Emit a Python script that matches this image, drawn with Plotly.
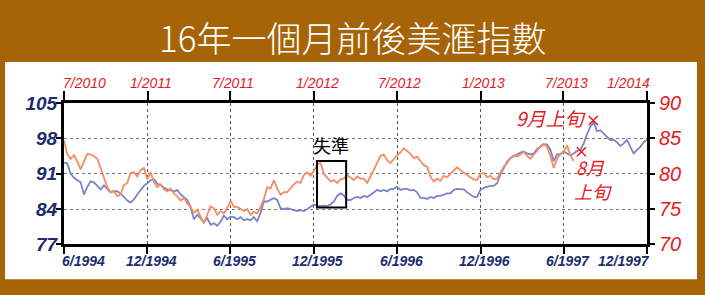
import pandas as pd
import plotly.graph_objects as go

# ---------------- data ----------------
blue_start, blue_end = "1994-06-01", "1997-12-01"
red_start, red_end = "2010-07-01", "2014-01-01"

# US dollar index 6/1994 - 12/1997 (left axis)
usd_1994_97 = [
    93.2, 93.0, 91.0, 90.2, 89.7, 89.3, 86.9, 88.4, 89.5, 89.3,
    88.6, 87.9, 88.7, 88.0, 87.3, 87.6, 87.5, 87.1, 86.4, 85.7,
    85.3, 85.9, 86.9, 87.8, 88.6, 89.1, 89.7, 89.9, 89.0, 88.8,
    88.2, 87.9, 87.7, 87.5, 87.8, 86.9, 86.4, 85.8, 84.4, 82.0,
    82.9, 82.2, 81.4, 82.2, 80.9, 81.2, 80.7, 81.5, 82.7, 82.0,
    82.5, 82.4, 82.0, 82.4, 81.8, 82.0, 81.8, 82.4, 81.6, 83.3,
    85.5, 85.5, 85.8, 86.2, 85.8, 84.2, 84.0, 84.2, 84.0, 83.8,
    83.6, 83.8, 83.6, 84.0, 84.4, 84.9, 84.7, 84.6, 84.7, 84.6,
    84.9, 85.5, 86.6, 87.1, 86.7, 85.8, 85.8, 86.2, 86.4, 86.2,
    86.6, 86.4, 86.8, 87.3, 87.8, 87.5, 87.8, 87.5, 88.0, 88.0,
    88.4, 87.8, 88.0, 88.0, 87.7, 87.8, 87.3, 86.2, 86.2, 86.0,
    86.4, 86.2, 86.6, 86.6, 86.9, 87.1, 87.1, 87.8, 88.0, 88.0,
    87.9, 87.3, 86.8, 86.4, 86.4, 87.8, 88.2, 88.4, 88.6, 88.6,
    89.1, 90.8, 92.1, 93.4, 94.1, 94.4, 94.8, 95.2, 95.4, 95.0,
    94.8, 95.0, 95.9, 96.3, 96.8, 96.8, 95.7, 93.5, 94.8, 94.8,
    95.4, 95.0, 94.6, 95.0, 95.5, 95.7, 97.0, 98.8, 100.3, 101.2,
    99.4, 99.6, 99.0, 98.3, 97.6, 97.7, 97.2, 96.5, 97.0, 97.7,
    96.3, 95.0, 95.7, 96.3, 97.2, 97.7,
]

# US dollar index 7/2010 - 8/2013 (right axis)
usd_2010_13 = [
    84.7, 82.7, 82.1, 82.6, 81.7, 80.6, 81.7, 82.8, 82.7, 82.5,
    82.1, 80.8, 79.5, 78.1, 77.4, 77.5, 76.8, 77.1, 78.4, 78.7,
    80.1, 80.2, 79.6, 80.5, 80.8, 79.2, 80.2, 78.8, 78.1, 78.5,
    77.8, 77.5, 77.9, 77.2, 76.8, 76.2, 76.6, 75.8, 75.3, 74.5,
    74.9, 74.0, 73.0, 74.2, 75.4, 75.1, 74.2, 74.7, 74.4, 75.1,
    76.2, 75.3, 75.3, 75.0, 74.7, 75.0, 74.2, 74.6, 74.4, 75.3,
    76.4, 78.1, 77.9, 79.1, 77.9, 77.0, 77.4, 77.4, 78.0, 78.5,
    78.9, 78.7, 79.8, 80.2, 79.7, 80.4, 81.3, 81.5, 80.0, 79.5,
    78.9, 79.1, 78.7, 79.2, 79.3, 79.8, 79.5, 79.1, 79.6, 79.3,
    79.3, 78.7, 79.6, 80.6, 81.7, 82.5, 82.7, 81.9, 81.5, 82.1,
    82.6, 83.0, 83.6, 83.2, 82.8, 82.2, 82.4, 81.8, 81.2, 81.0,
    79.6, 78.9, 79.3, 79.0, 79.7, 79.5, 80.0, 80.5, 80.9, 80.5,
    80.1, 79.8, 79.5, 79.2, 79.1, 80.0, 80.1, 79.5, 79.7, 79.2,
    79.3, 80.2, 81.0, 81.5, 82.2, 82.6, 82.4, 82.7, 83.1, 82.5,
    82.1, 82.7, 83.2, 83.9, 84.2, 83.8, 82.5, 80.8, 82.1, 82.8,
    83.1, 84.0, 82.6, 81.8,
]

blue_tickvals = ["1994-06-01", "1994-12-01", "1995-06-01", "1995-12-01",
                 "1996-06-01", "1996-12-01", "1997-06-01", "1997-12-01"]
blue_ticktext = ["6/1994", "12/1994", "6/1995", "12/1995",
                 "6/1996", "12/1996", "6/1997", "12/1997"]
red_tickvals = ["2010-07-01", "2011-01-01", "2011-07-01", "2012-01-01",
                "2012-07-01", "2013-01-01", "2013-07-01", "2014-01-01"]
red_ticktext = ["7/2010", "1/2011", "7/2011", "1/2012",
                "7/2012", "1/2013", "7/2013", "1/2014"]
left_ticks = [77, 84, 91, 98, 105]
right_ticks = [70, 75, 80, 85, 90]

mark_dates = ["2013-08-10", "2013-09-05"]
mark_vals = [83.1, 87.5]

box_dates = ["1995-12-08", "1996-02-10"]
box_vals = [84.3, 93.5]

title = "16年一個月前後美滙指數"

# ---------------- styling ----------------
W, H = 705, 295
BROWN = "#a66406"
NAVY = "#1b2b6e"
RED = "#e5191e"
BLUE_LINE = "#7b82c9"
ORANGE_LINE = "#f38d62"
SANS = "Liberation Sans, Arial, sans-serif"
CJK = "Noto Sans CJK TC, Noto Sans CJK SC, sans-serif"


def pxx(x):
    return x / W


def pxy(y):
    return 1 - y / H


blue_dates = pd.date_range(blue_start, blue_end, periods=176)[:len(usd_1994_97)]
red_dates = pd.date_range(red_start, red_end, periods=176)[:len(usd_2010_13)]

fig = go.Figure()
fig.add_trace(go.Scatter(x=blue_dates, y=usd_1994_97, mode="lines",
                         line=dict(color=BLUE_LINE, width=1.8),
                         xaxis="x", yaxis="y", hoverinfo="skip"))
fig.add_trace(go.Scatter(x=red_dates, y=usd_2010_13, mode="lines",
                         line=dict(color=ORANGE_LINE, width=1.8),
                         xaxis="x2", yaxis="y2", hoverinfo="skip"))
fig.add_trace(go.Scatter(x=mark_dates, y=mark_vals, mode="markers",
                         marker=dict(symbol="x-thin", size=9,
                                     line=dict(color=RED, width=1.5)),
                         xaxis="x2", yaxis="y2", hoverinfo="skip"))

xdom = [pxx(64), pxx(647)]
ydom = [pxy(252.3), pxy(99.3)]

common_axis = dict(showline=True, linewidth=3, linecolor="black",
                   ticks="outside", tickwidth=2, tickcolor="black",
                   zeroline=False, fixedrange=True)

fig.update_layout(
    width=W, height=H,
    margin=dict(l=0, r=0, t=0, b=0),
    paper_bgcolor=BROWN,
    plot_bgcolor="white",
    showlegend=False,
    xaxis=dict(domain=xdom, type="date", range=[blue_start, blue_end],
               anchor="y", tickvals=blue_tickvals, showticklabels=False,
               ticklen=7, showgrid=True, gridcolor="#555555", griddash="dot",
               gridwidth=1, **common_axis),
    xaxis2=dict(domain=xdom, type="date", range=[red_start, red_end],
                overlaying="x", side="top", anchor="y",
                tickvals=red_tickvals, showticklabels=False, ticklen=9,
                showgrid=False, **common_axis),
    yaxis=dict(domain=ydom, range=[77, 105], anchor="x", tickvals=left_ticks,
               ticklen=5, showgrid=True, gridcolor="#777777", griddash="dot",
               gridwidth=1, ticklabelstandoff=-5,
               tickfont=dict(family=SANS, size=19, color=NAVY,
                             weight="bold", style="italic"),
               **common_axis),
    yaxis2=dict(domain=ydom, range=[70, 90], overlaying="y", side="right",
                anchor="x", tickvals=right_ticks, ticklen=5, showgrid=False,
                ticklabelstandoff=0,
                tickfont=dict(family=SANS, size=20, color=RED, style="italic"),
                **common_axis),
)

shapes = [
    dict(type="rect", xref="paper", yref="paper", x0=pxx(5), x1=pxx(697),
         y0=pxy(290), y1=pxy(55), fillcolor="white", line=dict(width=0),
         layer="below"),
    dict(type="rect", xref="x", yref="y", x0=box_dates[0], x1=box_dates[1],
         y0=box_vals[0], y1=box_vals[1], line=dict(color="black", width=2),
         layer="above"),
]
fig.update_layout(shapes=shapes)

annotations = [
    dict(text=title, xref="paper", yref="paper", x=pxx(352), y=pxy(28),
         showarrow=False, xanchor="center", yanchor="middle",
         font=dict(family=CJK, size=35, color="white", weight=300)),
    dict(text="失準", xref="paper", yref="paper", x=pxx(331), y=pxy(145),
         showarrow=False, xanchor="center", yanchor="middle",
         font=dict(family=CJK, size=18, color="black")),
    dict(text="9月上旬", xref="paper", yref="paper", x=pxx(551), y=pxy(115),
         showarrow=False, xanchor="center", yanchor="middle",
         font=dict(family=CJK, size=19, color=RED, style="italic")),
    dict(text="8月", xref="paper", yref="paper", x=pxx(574), y=pxy(169),
         showarrow=False, xanchor="left", yanchor="middle",
         font=dict(family=CJK, size=18, color=RED, style="italic")),
    dict(text="上旬", xref="paper", yref="paper", x=pxx(572), y=pxy(194),
         showarrow=False, xanchor="left", yanchor="middle",
         font=dict(family=CJK, size=18, color=RED, style="italic")),
]

n = len(blue_tickvals)
for i, (tv, tt) in enumerate(zip(blue_tickvals, blue_ticktext)):
    if i == 0:
        xa, xs = "left", -4
    elif i == n - 1:
        xa, xs = "right", 5
    else:
        xa, xs = "center", 4
    annotations.append(dict(text=tt, xref="x", yref="paper", x=tv,
                            y=pxy(259), xanchor=xa, yanchor="top",
                            xshift=xs, showarrow=False,
                            font=dict(family=SANS, size=14, color=NAVY,
                                      weight="bold", style="italic")))
for i, (tv, tt) in enumerate(zip(red_tickvals, red_ticktext)):
    if i == 0:
        xa, xs = "left", -3
    elif i == n - 1:
        xa, xs = "right", 5
    else:
        xa, xs = "center", 3
    annotations.append(dict(text=tt, xref="x2", yref="paper", x=tv,
                            y=pxy(89), xanchor=xa, yanchor="bottom",
                            xshift=xs, showarrow=False,
                            font=dict(family=SANS, size=14, color=RED,
                                      style="italic")))
fig.update_layout(annotations=annotations)

fig.write_html("out.html")
